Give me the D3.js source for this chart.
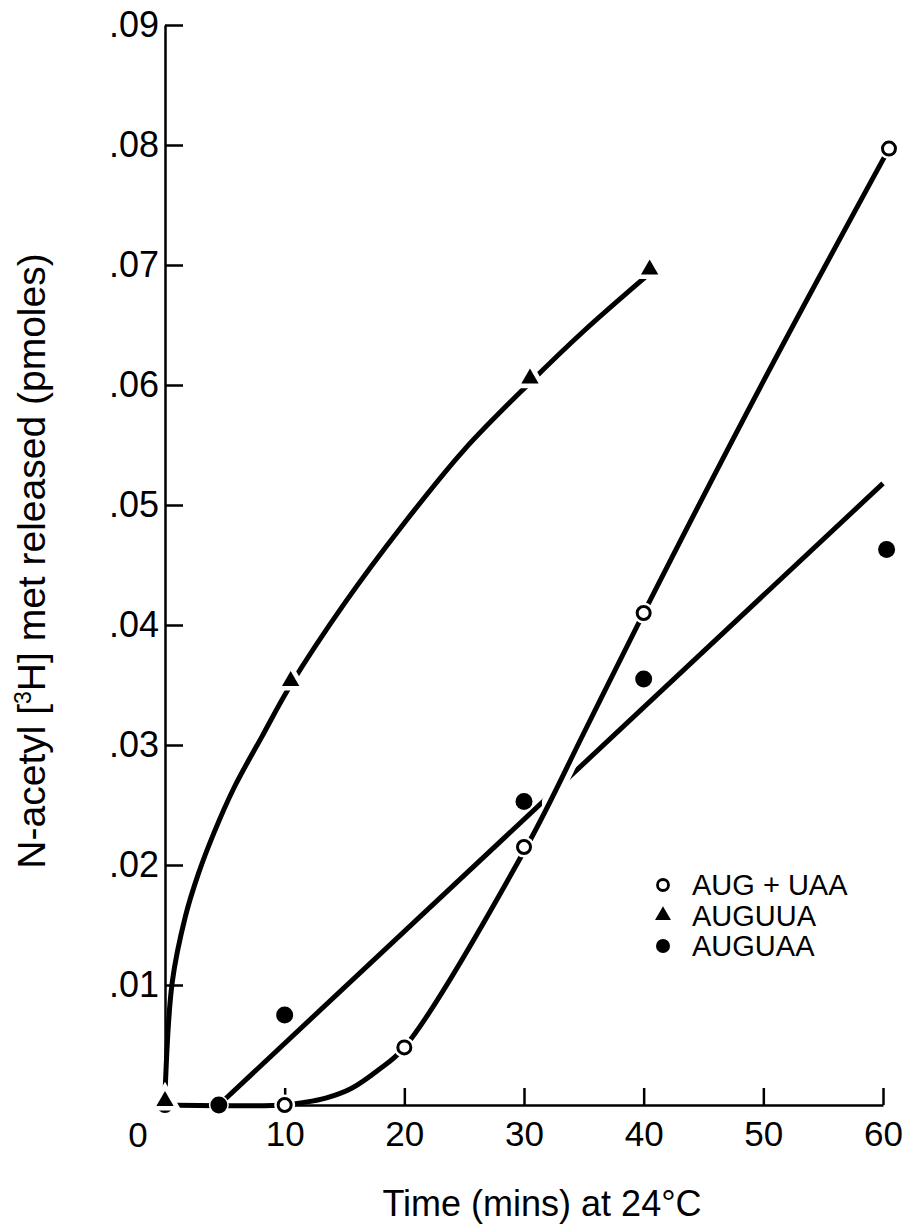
<!DOCTYPE html>
<html>
<head>
<meta charset="utf-8">
<script src="https://cdn.jsdelivr.net/npm/d3@7"></script>
<style>
  body { margin: 0; background: #fff; }
  svg text { font-family: "Liberation Sans", Arial, sans-serif; fill: #000; }
</style>
</head>
<body>
<svg id="chart" width="904" height="1232"></svg>
<script>
// measured points (time in mins, pmoles)
var uaaTime = [0, 10, 20, 30, 40, 60.5];
var uaaVal  = [0, 0, 0.0048, 0.0215, 0.041, 0.0797];
var uuaTime = [0, 10.5, 30.5, 40.5];
var uuaVal  = [0, 0.035, 0.0602, 0.0693];
var guaaTime = [4.5, 10, 30, 40, 60.3];
var guaaVal  = [0, 0.0075, 0.0253, 0.0355, 0.0463];

// hand drawn curves
var uaaFitTime = [0, 10, 11.5, 13.5, 15.6, 17.8, 20, 30.2, 35, 40, 50, 60.5];
var uaaFitVal  = [0, 0, 0.0002, 0.0006, 0.0014, 0.0029, 0.0048, 0.0215, 0.031, 0.041, 0.0603, 0.0797];
var uuaFitTime = [0, 0.6, 1.7, 2.8, 4.1, 5.8, 8.1, 10.5, 15, 20, 25, 30.5, 35, 40.5];
var uuaFitVal  = [0.0008, 0.0102, 0.0157, 0.0193, 0.0227, 0.0265, 0.0307, 0.035, 0.0418, 0.0485, 0.0546, 0.0602, 0.0645, 0.0693];
var guaaFitTime = [4.5, 60];
var guaaFitVal  = [0, 0.0518];

var xTicks = [10, 20, 30, 40, 50, 60];
var yTicks = [0.01, 0.02, 0.03, 0.04, 0.05, 0.06, 0.07, 0.08, 0.09];
var legendNames = ["AUG + UAA", "AUGUUA", "AUGUAA"];

var svg = d3.select("#chart");
var x = d3.scaleLinear().domain([0, 60]).range([165, 883]);
var y = d3.scaleLinear().domain([0, 0.09]).range([1105, 25]);

function pts(t, v) { return t.map(function(d, i) { return [d, v[i]]; }); }

// axes
var yAxis = d3.axisLeft(y).tickValues(yTicks).tickSize(-18).tickSizeOuter(0).tickPadding(6)
  .tickFormat(function(d) { return d3.format(".2f")(d).slice(1); });
var gy = svg.append("g").attr("transform", "translate(" + x(0) + ",0)").call(yAxis);
gy.selectAll("text").style("font-size", "36px");

var xAxis = d3.axisBottom(x).tickValues(xTicks).tickSize(-17).tickSizeOuter(0).tickPadding(16);
var gx = svg.append("g").attr("transform", "translate(0," + y(0) + ")").call(xAxis);
gx.selectAll("text").style("font-size", "35px");
svg.append("text").attr("x", x(0) - 27).attr("y", y(0) + 42)
  .attr("text-anchor", "middle").style("font-size", "35px").text("0");

[gx, gy].forEach(function(g) {
  g.select(".domain").attr("stroke", "#000").attr("stroke-width", 2.5);
  g.selectAll(".tick line").attr("stroke", "#000").attr("stroke-width", 2.5);
  g.selectAll("text").attr("fill", "#000");
});

// titles
svg.append("text").attr("x", 542).attr("y", 1216).attr("text-anchor", "middle")
  .style("font-size", "36px").text("Time (mins) at 24\u00b0C");

var yl = svg.append("text").attr("transform", "translate(45,561) rotate(-90)")
  .attr("text-anchor", "middle").style("font-size", "39px");
yl.append("tspan").text("N-acetyl [");
yl.append("tspan").attr("dy", -14).style("font-size", "23px").text("3");
yl.append("tspan").attr("dy", 14).text("H] met released (pmoles)");

// curves
var line = d3.line().x(function(d) { return x(d[0]); }).y(function(d) { return y(d[1]); })
  .curve(d3.curveCatmullRom.alpha(0.5));

svg.append("path").datum(pts(guaaFitTime, guaaFitVal)).attr("d", d3.line()
    .x(function(d) { return x(d[0]); }).y(function(d) { return y(d[1]); }))
  .attr("fill", "none").attr("stroke", "#000").attr("stroke-width", 5);

svg.append("path").datum(pts(uuaFitTime, uuaFitVal)).attr("d", line)
  .attr("fill", "none").attr("stroke", "#000").attr("stroke-width", 5);

// white gap where AUG + UAA crosses the AUGUAA line
svg.append("clipPath").attr("id", "gap").append("rect")
  .attr("x", x(31.5)).attr("width", x(34.5) - x(31.5))
  .attr("y", y(0.035)).attr("height", y(0.02) - y(0.035));
svg.append("path").datum(pts(uaaFitTime, uaaFitVal)).attr("d", line)
  .attr("clip-path", "url(#gap)")
  .attr("fill", "none").attr("stroke", "#fff").attr("stroke-width", 16);
svg.append("path").datum(pts(uaaFitTime, uaaFitVal)).attr("d", line)
  .attr("fill", "none").attr("stroke", "#000").attr("stroke-width", 5);

// markers
var tri = d3.symbol().type(d3.symbolTriangle);

svg.append("g").selectAll("circle").data(pts(uaaTime, uaaVal)).enter().append("circle")
  .attr("cx", function(d) { return x(d[0]); }).attr("cy", function(d) { return y(d[1]); })
  .attr("r", 10.5).attr("fill", "#fff");
svg.append("g").selectAll("circle").data(pts(uaaTime, uaaVal)).enter().append("circle")
  .attr("cx", function(d) { return x(d[0]); }).attr("cy", function(d) { return y(d[1]); })
  .attr("r", 6.5).attr("fill", "#fff").attr("stroke", "#000").attr("stroke-width", 3);

var uuaPts = pts(uuaTime, uuaVal);
svg.append("g").selectAll("path").data(uuaPts).enter().append("path")
  .attr("transform", function(d) { return "translate(" + x(d[0]) + "," + (y(d[1]) - 4) + ")"; })
  .attr("d", tri.size(260)).attr("fill", "#fff").attr("stroke", "#fff").attr("stroke-width", 5);
svg.append("g").selectAll("path").data(uuaPts).enter().append("path")
  .attr("transform", function(d) { return "translate(" + x(d[0]) + "," + (y(d[1]) - 4) + ")"; })
  .attr("d", tri.size(130)).attr("fill", "#000");

svg.append("g").selectAll("circle").data(pts(guaaTime, guaaVal)).enter().append("circle")
  .attr("cx", function(d) { return x(d[0]); }).attr("cy", function(d) { return y(d[1]); })
  .attr("r", 8.5).attr("fill", "#000").attr("stroke", "#fff").attr("stroke-width", 3)
  .style("paint-order", "stroke");

// legend
var lg = svg.append("g").attr("transform", "translate(663,885)");
legendNames.forEach(function(name, i) {
  var row = lg.append("g").attr("transform", "translate(0," + (i * 30.5) + ")");
  if (i === 0) row.append("circle").attr("r", 5.5).attr("fill", "#fff").attr("stroke", "#000").attr("stroke-width", 2.8);
  if (i === 1) row.append("path").attr("d", tri.size(110)).attr("fill", "#000");
  if (i === 2) row.append("circle").attr("r", 7).attr("fill", "#000");
  row.append("text").attr("x", 29).attr("y", 10).style("font-size", "29px").text(name);
});
</script>
</body>
</html>
